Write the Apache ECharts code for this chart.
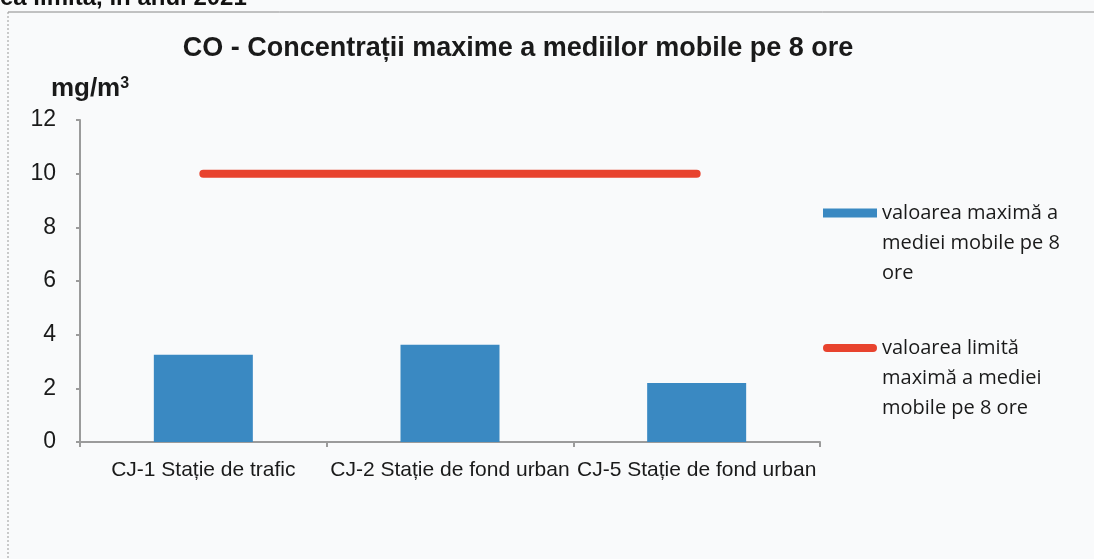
<!DOCTYPE html>
<html>
<head>
<meta charset="utf-8">
<script src="https://cdn.jsdelivr.net/npm/echarts@6/dist/echarts.min.js"></script>
<style>
  html, body { margin: 0; padding: 0; background: #f9fafb; }
  #chart { width: 1094px; height: 559px; }
</style>
</head>
<body>
<div id="chart"></div>
<script>
// statii de monitorizare
const stations = ["CJ-1 Stație de trafic", "CJ-2 Stație de fond urban", "CJ-5 Stație de fond urban"];
// valoarea maxima a mediei mobile pe 8 ore (mg/m3)
const maxValues = [3.25, 3.62, 2.2];
// valoarea limita
const limitValues = [10, 10, 10];
const yTicks = [0, 2, 4, 6, 8, 10, 12];

const nameBar = "valoarea maximă a mediei mobile pe 8 ore";
const nameLine = "valoarea limită maximă a mediei mobile pe 8 ore";

// doua randuri goale in fata -> iconita ramane pe primul rand de text
const legendText = {
  [nameBar]: "\n\nvaloarea maximă a\nmediei mobile pe 8\nore",
  [nameLine]: "\n\nvaloarea limită\nmaximă a mediei\nmobile pe 8 ore",
};

const chart = echarts.init(document.getElementById("chart"));

const legendCommon = {
  orient: "vertical",
  left: 818,
  itemWidth: 54,
  itemHeight: 9,
  formatter: (n) => legendText[n],
  textStyle: {
    fontFamily: "Open Sans",
    fontSize: 20,
    lineHeight: 30,
    color: "#1a1a1a",
  },
};

chart.setOption({
  backgroundColor: "#f9fafb",
  animation: false,
  title: {
    text: "CO - Concentrații maxime a mediilor mobile pe 8 ore",
    left: 513,
    textAlign: "center",
    top: 30,
    textStyle: {
      fontFamily: "Liberation Sans",
      fontWeight: "bold",
      fontSize: 27,
      color: "#1a1a1a",
    },
  },
  graphic: [
    {
      type: "text",
      left: 0,
      top: -14,
      style: { text: "ea limită, în anul 2021", fontFamily: "Liberation Sans", fontWeight: "bold", fontSize: 24, fill: "#111" },
    },
    { type: "line", shape: { x1: 8, y1: 12, x2: 1094, y2: 12 }, style: { stroke: "#888", lineWidth: 1 } },
    { type: "line", shape: { x1: 8, y1: 12, x2: 8, y2: 559 }, style: { stroke: "#999", lineWidth: 1, lineDash: [2, 2] } },
  ],
  legend: [
    Object.assign({ top: 133, data: [{ name: nameBar, icon: "rect" }] }, legendCommon),
    Object.assign({ top: 268, data: [{ name: nameLine, icon: "path://M4,0 L50,0 A4,4 0 0 1 50,8 L4,8 A4,4 0 0 1 4,0 Z" }] }, legendCommon),
  ],
  grid: { left: 80, right: 274, top: 120, bottom: 117 },
  xAxis: {
    type: "category",
    data: stations,
    axisLine: { lineStyle: { color: "#9b9b9b", width: 2 } },
    axisTick: { show: true, length: 5, lineStyle: { color: "#9b9b9b", width: 2 } },
    axisLabel: {
      margin: 18,
      fontFamily: "Liberation Sans",
      fontSize: 21,
      color: "#1a1a1a",
      interval: 0,
    },
  },
  yAxis: {
    type: "value",
    min: yTicks[0],
    max: yTicks[yTicks.length - 1],
    interval: 2,
    name: "{a|mg/m}{s|3}",
    nameLocation: "end",
    nameGap: 18,
    nameTextStyle: {
      align: "center",
      padding: [0, 0, 0, 20],
      rich: {
        a: { fontFamily: "Liberation Sans", fontWeight: "bold", fontSize: 26, color: "#1a1a1a" },
        s: { fontFamily: "Liberation Sans", fontWeight: "bold", fontSize: 16, color: "#1a1a1a", verticalAlign: "top", padding: [0, 0, 10, 0] },
      },
    },
    splitLine: { show: false },
    axisLine: { show: true, lineStyle: { color: "#9b9b9b", width: 2 } },
    axisTick: { show: true, length: 4, lineStyle: { color: "#9b9b9b", width: 2 } },
    axisLabel: {
      margin: 24,
      fontFamily: "Liberation Sans",
      fontSize: 23,
      color: "#1a1a1a",
    },
  },
  series: [
    {
      name: nameBar,
      type: "bar",
      data: maxValues,
      barWidth: 99,
      itemStyle: { color: "#3a89c2" },
    },
    {
      name: nameLine,
      type: "line",
      data: limitValues,
      symbol: "none",
      lineStyle: { color: "#e8432e", width: 8, cap: "round" },
      itemStyle: { color: "#e8432e" },
    },
  ],
});
</script>
</body>
</html>
